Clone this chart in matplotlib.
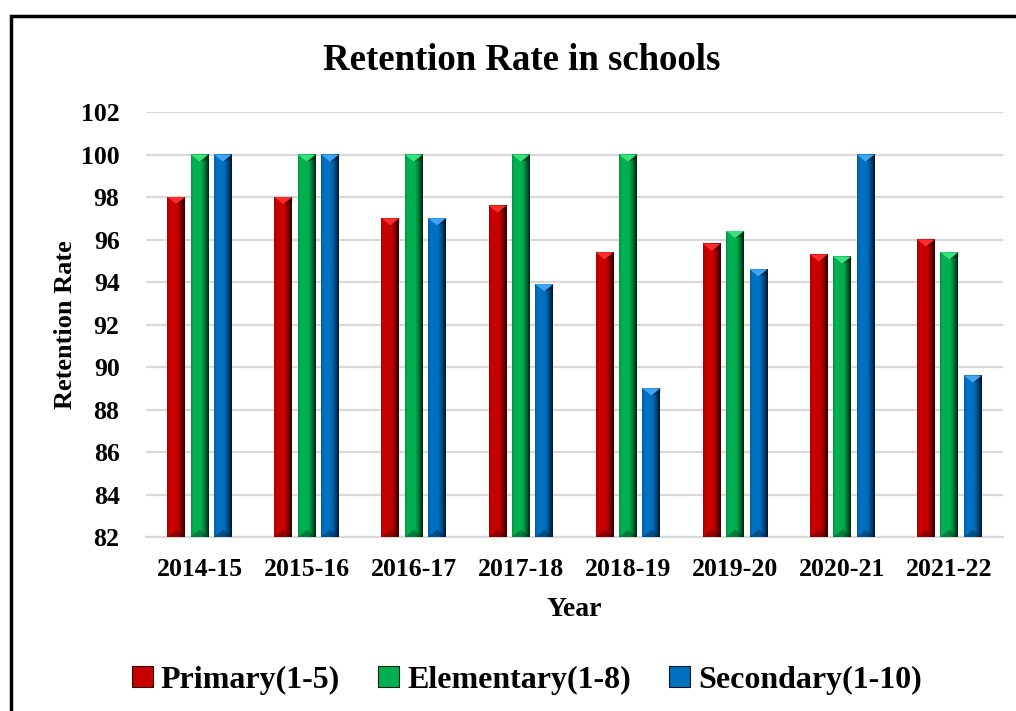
import numpy as np
import matplotlib.pyplot as plt
from matplotlib.patches import Polygon, Patch, Rectangle
from matplotlib.colors import to_rgb

years = ["2014-15", "2015-16", "2016-17", "2017-18", "2018-19", "2019-20", "2020-21", "2021-22"]
primary = [98.0, 98.0, 97.0, 97.6, 95.4, 95.8, 95.3, 96.0]
elementary = [100, 100, 100, 100, 100, 96.4, 95.2, 95.4]
secondary = [100, 100, 97.0, 93.9, 89.0, 94.6, 100, 89.6]
series_names = ["Primary(1-5)", "Elementary(1-8)", "Secondary(1-10)"]

# light edge, main body, dark side, bevel top
palettes = [
    ("#a80000", "#c80000", "#2a0000", "#ff2a2a"),
    ("#009040", "#00b050", "#00200e", "#3ae07a"),
    ("#005aa0", "#0070c0", "#001428", "#40a4f4"),
]

plt.rcParams["font.family"] = ["Liberation Serif", "DejaVu Serif"]
plt.rcParams["font.weight"] = "bold"

fig = plt.figure(figsize=(10.16, 7.11), dpi=100)
ax = fig.add_axes([146 / 1016, 1 - 537 / 711, 857 / 1016, 425 / 711])

ymin, ymax = 82, 102
width = 0.168
step = 0.218


def grad_img(cols, n=64):
    edge, body, dark, _ = [np.array(to_rgb(c)) for c in cols]
    t = np.linspace(0, 1, n)
    img = np.zeros((1, n, 3))
    for i, v in enumerate(t):
        if v < 0.12:
            c = edge + (body - edge) * (v / 0.12)
        elif v < 0.55:
            c = body
        else:
            c = body + (dark - body) * ((v - 0.55) / 0.45) ** 1.3
        img[0, i] = c
    return img


bevel_h = 0.34
for k, vals in enumerate([primary, elementary, secondary]):
    cols = palettes[k]
    img = grad_img(cols)
    for i, v in enumerate(vals):
        x0 = i + (k - 1) * step - width / 2
        x1 = x0 + width
        xc = x0 + width / 2
        ax.imshow(img, extent=(x0, x1, ymin, v), aspect="auto",
                  interpolation="bilinear", zorder=3)
        # bevelled cap on top of the bar
        ax.add_patch(Polygon([(x0, v), (x1, v), (xc, v - bevel_h)],
                             closed=True, facecolor=cols[3], edgecolor="none", zorder=4))
        ax.add_patch(Polygon([(xc, v - bevel_h), (x1, v), (x1, v - bevel_h * 0.7)],
                             closed=True, facecolor=cols[2], edgecolor="none", alpha=0.5, zorder=4))
        ax.add_patch(Polygon([(x0, ymin), (x1, ymin), (xc, ymin + bevel_h)],
                             closed=True, facecolor=cols[2], edgecolor="none", alpha=0.35, zorder=4))

ax.set_xlim(-0.5, len(years) - 0.5)
ax.set_ylim(ymin, ymax)
ax.set_yticks(np.arange(82, 103, 2))
ax.set_xticks(range(len(years)))
ax.set_xticklabels(years)
ax.tick_params(axis="both", length=0, labelsize=18.5)
ax.tick_params(axis="x", pad=15)
ax.tick_params(axis="y", pad=19)
for lab in ax.get_xticklabels() + ax.get_yticklabels():
    lab.set_fontweight("bold")
ax.yaxis.grid(True, color="#d9d9d9", linewidth=1.6, zorder=0)
ax.set_axisbelow(True)
for s in ["top", "right", "left"]:
    ax.spines[s].set_visible(False)
ax.spines["bottom"].set_color("#d9d9d9")
ax.spines["bottom"].set_linewidth(1.6)

ax.set_xlabel("Year", fontsize=20, fontweight="bold", labelpad=12)
ax.set_ylabel("Retention Rate", fontsize=19, fontweight="bold", labelpad=3)
fig.text(522 / 1016, 1 - 60 / 711, "Retention Rate in schools", ha="center", va="center",
         fontsize=26.5, fontweight="bold")

handles = [Patch(facecolor=palettes[k][1], edgecolor=palettes[k][2], linewidth=0.8)
           for k in range(3)]
fig.legend(handles, series_names, loc="center", bbox_to_anchor=(527 / 1016, 1 - 680 / 711),
           ncol=3, frameon=False, prop={"size": 23, "weight": "bold"},
           handlelength=0.65, handleheight=0.65, handletextpad=0.25, columnspacing=1.2)

# outer frame, running off the right and bottom edges
fig.patches.append(Rectangle((11 / 1016, -0.1), 1.2, 1 - 16 / 711 + 0.1, transform=fig.transFigure,
                             fill=False, edgecolor="black", linewidth=2.5, figure=fig))

fig.savefig("out.png", dpi=100)
